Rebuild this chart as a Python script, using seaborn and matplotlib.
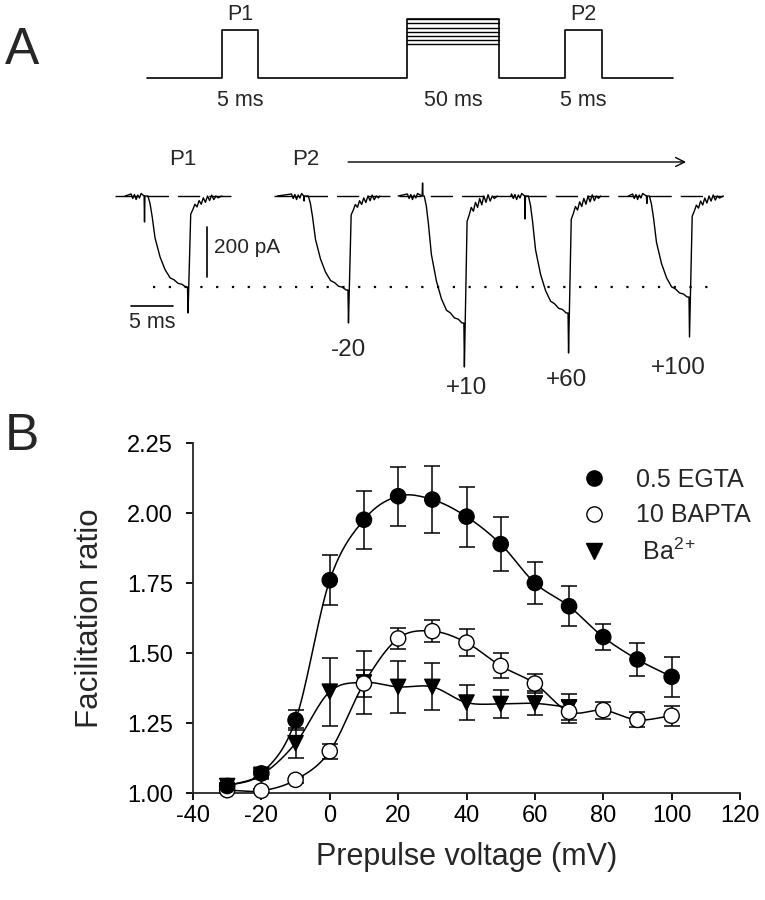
import numpy as np
import pandas as pd
import seaborn as sns
import matplotlib.pyplot as plt
from matplotlib.lines import Line2D

sns.set_style('ticks')
plt.rcParams['font.family'] = ['Liberation Sans', 'DejaVu Sans']
plt.rcParams['mathtext.fontset'] = 'custom'
plt.rcParams['mathtext.rm'] = 'Liberation Sans'
plt.rcParams['mathtext.it'] = 'Liberation Sans:italic'
plt.rcParams['axes.unicode_minus'] = False

# ---- panel B data: facilitation ratio vs prepulse voltage ----
voltage = [-30, -20, -10, 0, 10, 20, 30, 40, 50, 60, 70, 80, 90, 100]
egta_mean = [1.025, 1.07, 1.26, 1.76, 1.976, 2.06, 2.048, 1.987, 1.889, 1.75, 1.667, 1.557, 1.477, 1.415]
egta_sem = [0.01, 0.015, 0.035, 0.09, 0.104, 0.106, 0.119, 0.107, 0.097, 0.076, 0.071, 0.048, 0.059, 0.071]
bapta_mean = [1.01, 1.008, 1.047, 1.149, 1.391, 1.552, 1.578, 1.537, 1.454, 1.391, 1.29, 1.296, 1.261, 1.276]
bapta_sem = [0.005, 0.005, 0.01, 0.026, 0.048, 0.038, 0.039, 0.048, 0.045, 0.033, 0.04, 0.03, 0.027, 0.036]
ba_voltage = [-30, -20, -10, 0, 10, 20, 30, 40, 50, 60, 70]
ba_mean = [1.025, 1.065, 1.178, 1.362, 1.395, 1.379, 1.379, 1.323, 1.318, 1.32, 1.306]
ba_sem = [0.01, 0.015, 0.054, 0.121, 0.113, 0.092, 0.084, 0.063, 0.05, 0.043, 0.047]
series_names = ['0.5 EGTA', '10 BAPTA', ' Ba$^{2}$$^{+}$']

# ---- panel A: pulse protocol (schematic, not to scale) ----
protocol_edges = [0, 75, 111, 260, 352, 418, 455, 526]
pulse_height = 48
prepulse_levels = [33.6, 37.8, 42.0, 46.2, 50.4, 54.6, 58.8]
protocol_durations = ['5 ms', '50 ms', '5 ms']

# ---- panel A: currents (ms, pA) ----
trace_labels = ['P1', '-20', '+10', '+60', '+100']
trace_onset = [5.7, 24.8, 38.6, 51.0, 65.4]
trace_peak = [-364, -376, -508, -468, -404]
trace_tail = [-468, -508, -684, -628, -564]
trace_start = [-2.7, -3.7, -3.1, -2.1, -2.5]
trace_end = [8.8, 8.5, 8.7, 8.6, 8.8]
artifact_t = [-0.4, -0.5, -0.2, -0.4, -0.3]
artifact_i = [-104, -20, 52, -92, -30]
pre_t = [-2.0, -1.8, -1.6, -1.4, -1.2, -1.0, -0.8]
pre_i = [8, -10, 6, -14, 4, -8, 10]
act_t = [0, 0.25, 0.5, 0.85, 1.45, 2.05, 2.65, 3.1, 3.6, 4.05, 4.5, 4.72]
act_frac = [0, 0.08, 0.22, 0.46, 0.67, 0.81, 0.9, 0.92, 0.96, 0.97, 1.0, 1.0]
spike_t = 4.78
tail_t = [5.1, 5.35, 5.6, 5.85, 6.1, 6.35, 6.6, 6.85, 7.1, 7.35, 7.6, 7.85, 8.1, 8.35]
tail_frac = [0.2, 0.15, 0.09, 0.12, 0.05, 0.09, 0.02, 0.07, 0.0, 0.05, -0.01, 0.04, 0.0, 0.02]


def smooth_curve(x, y, n=30):
    # cubic hermite line through the points (like the original fit line)
    x = np.asarray(x, float)
    y = np.asarray(y, float)
    xs, ys = [], []
    for i in range(len(x) - 1):
        h = x[i + 1] - x[i]
        m0 = (y[i + 1] - y[i - 1]) / (x[i + 1] - x[i - 1]) if i > 0 else (y[1] - y[0]) / h
        m1 = (y[i + 2] - y[i]) / (x[i + 2] - x[i]) if i < len(x) - 2 else (y[-1] - y[-2]) / h
        t = np.linspace(0, 1, n, endpoint=False)
        yy = ((2 * t**3 - 3 * t**2 + 1) * y[i] + (t**3 - 2 * t**2 + t) * h * m0
              + (-2 * t**3 + 3 * t**2) * y[i + 1] + (t**3 - t**2) * h * m1)
        xs.append(x[i] + t * h)
        ys.append(yy)
    xs.append([x[-1]])
    ys.append([y[-1]])
    return np.concatenate(xs), np.concatenate(ys)


fig = plt.figure(figsize=(7.65, 9), dpi=100)

# ======== panel A, protocol ========
axP = fig.add_axes([140 / 765, 1 - 120 / 900, 560 / 765, 120 / 900])
e = protocol_edges
top = max(prepulse_levels)
px = [e[0], e[1], e[1], e[2], e[2], e[3], e[3], e[4], e[4], e[5], e[5], e[6], e[6], e[7]]
py = [0, 0, pulse_height, pulse_height, 0, 0, top, top, 0, 0, pulse_height, pulse_height, 0, 0]
sns.lineplot(x=px, y=py, sort=False, estimator=None, color='black', lw=1.2, ax=axP)
for lev in prepulse_levels:
    sns.lineplot(x=[e[3], e[4]], y=[lev, lev], color='black', lw=1.0, ax=axP)
mids = [(e[1] + e[2]) / 2, (e[3] + e[4]) / 2, (e[5] + e[6]) / 2]
for m, lab in zip(mids, protocol_durations):
    axP.text(m, -22, lab, ha='center', va='center', fontsize=15.5)
axP.text(mids[0], 63, 'P1', ha='center', va='center', fontsize=15.5)
axP.text(mids[2], 63, 'P2', ha='center', va='center', fontsize=15.5)
axP.set_xlim(-7, 553)
axP.set_ylim(-42, 78)
axP.axis('off')

# ======== panel A, current traces ========
axA = fig.add_axes([100 / 765, 1 - 410 / 900, 665 / 765, 270 / 900])
for k in range(len(trace_labels)):
    t0 = trace_onset[k]
    tt = [trace_start[k]] + pre_t + [artifact_t[k] - 0.05, artifact_t[k], artifact_t[k] + 0.05]
    ii = [0] + pre_i + [0, artifact_i[k], 0]
    tt += act_t
    ii += [trace_peak[k] * f for f in act_frac]
    tt += [spike_t]
    ii += [trace_tail[k]]
    tt += tail_t
    ii += [trace_peak[k] * f for f in tail_frac]
    tt += [trace_end[k]]
    ii += [0]
    sns.lineplot(x=np.array(tt) + t0, y=ii, sort=False, estimator=None,
                 color='black', lw=1.0, ax=axA)

# zero-current dashed lines and P1 peak dotted line
axA.plot([1.8, 15.7], [0, 0], color='black', lw=1.0, ls=(0, (16, 6.5)))
axA.plot([20.7, 74.2], [0, 0], color='black', lw=1.0, ls=(0, (16, 6.5)))
axA.plot([6.3, 72.4], [trace_peak[0]] * 2, color='black', lw=1.6, ls=(0, (1, 6.1)))

# scale bars
axA.plot([12.74, 12.74], [-124, -324], color='black', lw=1.2)
axA.text(13.6, -208, '200 pA', ha='left', va='center', fontsize=15)
axA.plot([3.69, 8.69], [-440, -440], color='black', lw=1.2)
axA.text(6.19, -508, '5 ms', ha='center', va='center', fontsize=15.5)

axA.text(9.9, 144, 'P1', ha='center', va='center', fontsize=16)
axA.text(24.5, 144, 'P2', ha='center', va='center', fontsize=16)
axA.annotate('', xy=(70.1, 136), xytext=(29.2, 136),
             arrowprops=dict(arrowstyle='->', lw=1.0, color='black', mutation_scale=16))
label_pos = [(29.6, -616), (43.6, -768), (55.5, -736), (68.9, -688)]
for (lx, ly), lab in zip(label_pos, trace_labels[1:]):
    axA.text(lx, ly, lab, ha='center', va='center', fontsize=17.5)
axA.set_xlim(0, 665 / 8.4)
axA.set_ylim(-856, 224)
axA.axis('off')

# ======== panel B ========
ax = fig.add_axes([193 / 765, 107 / 900, 547 / 765, 350 / 900])

for xv, yv in [(voltage, egta_mean), (voltage, bapta_mean), (ba_voltage, ba_mean)]:
    sx, sy = smooth_curve(xv, yv)
    sns.lineplot(x=sx, y=sy, sort=False, estimator=None, color='black', lw=1.1,
                 ax=ax, zorder=1)

for xv, yv, ev in [(voltage, egta_mean, egta_sem), (voltage, bapta_mean, bapta_sem),
                   (ba_voltage, ba_mean, ba_sem)]:
    ax.errorbar(xv, yv, yerr=ev, fmt='none', ecolor='black', elinewidth=1.1,
                capsize=5.5, capthick=1.1, zorder=2, clip_on=False)

df = pd.concat([
    pd.DataFrame({'v': ba_voltage, 'ratio': ba_mean, 'cond': series_names[2]}),
    pd.DataFrame({'v': voltage, 'ratio': bapta_mean, 'cond': series_names[1]}),
    pd.DataFrame({'v': voltage, 'ratio': egta_mean, 'cond': series_names[0]}),
])
palette = {series_names[0]: 'black', series_names[1]: 'white', series_names[2]: 'black'}
markers = {series_names[0]: 'o', series_names[1]: 'o', series_names[2]: 'v'}
sns.scatterplot(data=df, x='v', y='ratio', hue='cond', style='cond', palette=palette,
                markers=markers, s=120, edgecolor='black', linewidth=1.0,
                legend=False, ax=ax, zorder=3, clip_on=False)

handles = [
    Line2D([], [], ls='none', marker='o', ms=11, mfc='black', mec='black'),
    Line2D([], [], ls='none', marker='o', ms=11, mfc='white', mec='black', mew=1.0),
    Line2D([], [], ls='none', marker='v', ms=11, mfc='black', mec='black'),
]
ax.legend(handles, series_names, loc='upper left', bbox_to_anchor=(581 / 765, 1 - 468 / 900),
          bbox_transform=fig.transFigure, frameon=False, fontsize=18, handlelength=1.0,
          handletextpad=1.2, labelspacing=0.45, borderpad=0, borderaxespad=0)

ax.set_xlim(-40, 120)
ax.set_ylim(1.0, 2.25)
ax.set_xticks(range(-40, 121, 20))
ax.set_yticks([1.0, 1.25, 1.5, 1.75, 2.0, 2.25])
ax.yaxis.set_major_formatter(plt.FormatStrFormatter('%.2f'))
sns.despine(ax=ax)
for s in ['left', 'bottom']:
    ax.spines[s].set_linewidth(1.3)
ax.tick_params(direction='out', length=5, width=1.3, labelsize=17, colors='black')
ax.tick_params(axis='y', pad=9.5)
ax.tick_params(axis='x', pad=4)
ax.set_xlabel('Prepulse voltage (mV)', fontsize=22)
ax.set_ylabel('Facilitation ratio', fontsize=22.5)
ax.xaxis.set_label_coords(0.5, -0.14)
ax.yaxis.set_label_coords(-0.16, 0.5)

fig.text(5 / 765, 1 - 50 / 900, 'A', fontsize=37, ha='left', va='center')
fig.text(5 / 765, 1 - 437 / 900, 'B', fontsize=37, ha='left', va='center')

fig.savefig('out.png', dpi=100)
